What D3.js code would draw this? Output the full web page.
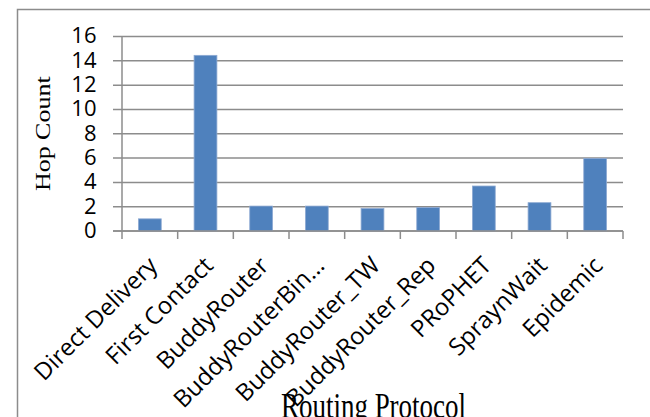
<!DOCTYPE html>
<html>
<head>
<meta charset="utf-8">
<script src="https://cdn.jsdelivr.net/npm/d3@7"></script>
<style>
  html, body { margin: 0; padding: 0; background: #fff; }
  svg { display: block; }
</style>
</head>
<body>
<div id="chart"></div>
<script>
// Average hop count per routing protocol
const protocols = ["Direct Delivery", "First Contact", "BuddyRouter", "BuddyRouterBin\u2026",
                   "BuddyRouter_TW", "BuddyRouter_Rep", "PRoPHET", "SpraynWait", "Epidemic"];
const hopCounts = [1, 14.45, 2.05, 2.05, 1.85, 1.93, 3.7, 2.33, 5.97];
const yTicks = [0, 2, 4, 6, 8, 10, 12, 14, 16];

const W = 650, H = 417;
const plot = { left: 122, right: 623, top: 36.5, bottom: 231 };

const svg = d3.select("#chart").append("svg")
  .attr("width", W).attr("height", H);

// chart frame (runs past the right and bottom edges)
svg.append("path")
  .attr("d", `M${W + 5},9.5 H17.5 V${H + 5}`)
  .attr("fill", "none")
  .attr("stroke", "#8c8c8c")
  .attr("stroke-width", 1.5);

const x = d3.scaleBand().domain(protocols).range([plot.left, plot.right]);
const y = d3.scaleLinear().domain([0, 16]).range([plot.bottom, plot.top]);

const sans = "'Open Sans', 'Noto Sans', sans-serif";
const serif = "'Liberation Serif', 'DejaVu Serif', serif";
const grid = "#8c8c8c";

// horizontal gridlines with left tick marks
svg.append("g").selectAll("line").data(yTicks).join("line")
  .attr("x1", plot.left - 9).attr("x2", plot.right)
  .attr("y1", d => y(d)).attr("y2", d => y(d))
  .attr("stroke", grid).attr("stroke-width", 1.5);

// y axis line
svg.append("line")
  .attr("x1", plot.left).attr("x2", plot.left)
  .attr("y1", y(16)).attr("y2", y(0))
  .attr("stroke", grid).attr("stroke-width", 1.5);

// y tick labels
svg.append("g").selectAll("text").data(yTicks).join("text")
  .attr("x", 96.5).attr("y", d => y(d))
  .attr("dy", "0.31em")
  .attr("text-anchor", "end")
  .attr("font-family", sans).attr("font-size", 22)
  .attr("fill", "#000")
  .text(d => d);

// category boundary ticks below the x axis
const bounds = protocols.map(p => x(p)).concat([plot.right]);
svg.append("g").selectAll("line").data(bounds).join("line")
  .attr("x1", d => d).attr("x2", d => d)
  .attr("y1", y(0)).attr("y2", y(0) + 8)
  .attr("stroke", grid).attr("stroke-width", 1.5);

// bars
const barW = x.bandwidth() * 0.41;
svg.append("g").selectAll("rect").data(protocols).join("rect")
  .attr("x", p => x(p) + (x.bandwidth() - barW) / 2)
  .attr("width", barW)
  .attr("y", (p, i) => y(hopCounts[i]))
  .attr("height", (p, i) => y(0) - y(hopCounts[i]))
  .attr("fill", "#4f81bd")
  .attr("stroke", "#8eaad3")
  .attr("stroke-width", 0.8);

// redraw the baseline over the bars
svg.append("line")
  .attr("x1", plot.left - 9).attr("x2", plot.right)
  .attr("y1", y(0)).attr("y2", y(0))
  .attr("stroke", grid).attr("stroke-width", 1.5);

// rotated category labels, sized so a long label spans about 140px
const labels = svg.append("g").selectAll("text").data(protocols).join("text")
  .attr("text-anchor", "end")
  .attr("font-family", sans).attr("font-size", 24)
  .attr("fill", "#000")
  .text(p => p);
const refLen = labels.filter(p => p === "First Contact").node().getComputedTextLength();
const labelSize = 24 * 140 / refLen;
labels
  .attr("font-size", labelSize)
  .attr("transform", p => `translate(${x(p) + x.bandwidth() / 2 + 9},${y(0) + 36}) rotate(-45)`);

// axis titles (set in a condensed serif)
svg.append("text")
  .attr("transform", `translate(50,${(plot.top + plot.bottom) / 2}) rotate(-90) scale(1,0.77)`)
  .attr("text-anchor", "middle")
  .attr("font-family", serif).attr("font-size", 26)
  .attr("fill", "#000")
  .text("Hop Count");

svg.append("text")
  .attr("transform", `translate(${(plot.left + plot.right) / 2 + 1},418) scale(0.77,1)`)
  .attr("text-anchor", "middle")
  .attr("font-family", serif).attr("font-size", 35)
  .attr("fill", "#000")
  .text("Routing Protocol");
</script>
</body>
</html>
